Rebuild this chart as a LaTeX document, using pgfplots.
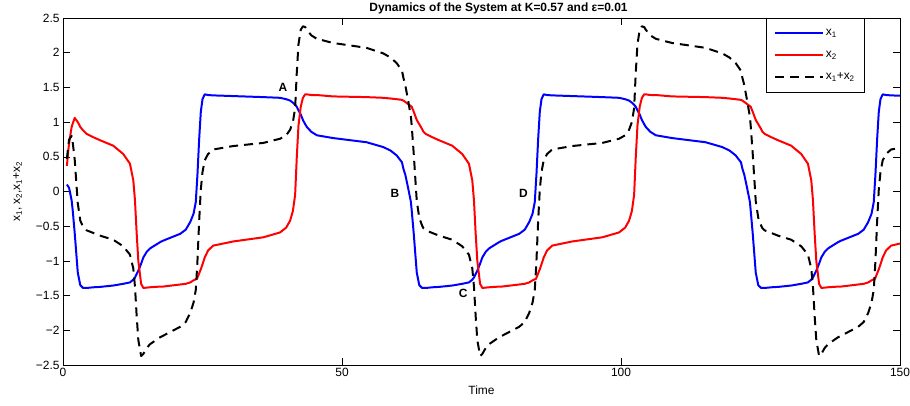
\documentclass[border=0pt]{standalone}
\usepackage{fontspec}
\setmainfont{Liberation Sans}
\usepackage{pgfplots}
\usepackage{pgfplotstable}
\pgfplotsset{compat=1.18}

\pgfplotstableread{
t x1 x2 s
0.7 0.10 0.37 0.47
0.95 0.07 0.59 0.66
1.1 0.05 0.70 0.75
1.55 -0.13 0.93 0.80
1.75 -0.28 0.98 0.70
2.1 -0.60 1.06 0.46
2.65 -1.17 1.00 -0.17
3.1 -1.35 0.93 -0.42
3.6 -1.39 0.88 -0.51
3.85 -1.39 0.86 -0.53
4.25 -1.39 0.83 -0.56
5.5 -1.38 0.78 -0.60
6.6 -1.375 0.74 -0.635
9.0 -1.355 0.66 -0.695
10.8 -1.33 0.54 -0.79
12.0 -1.31 0.40 -0.91
12.6 -1.27 0.16 -1.11
12.9 -1.24 -0.13 -1.37
13.2 -1.19 -0.60 -1.79
13.5 -1.14 -1.00 -2.14
14.0 -1.04 -1.33 -2.37
14.4 -0.95 -1.39 -2.34
15.0 -0.87 -1.385 -2.255
15.6 -0.82 -1.38 -2.20
17.4 -0.73 -1.37 -2.10
17.9 -0.71 -1.37 -2.08
21.0 -0.61 -1.34 -1.95
22.0 -0.55 -1.33 -1.88
22.8 -0.44 -1.31 -1.75
23.4 -0.32 -1.28 -1.60
23.8 -0.15 -1.265 -1.415
24.0 0.12 -1.26 -1.14
24.1 0.25 -1.24 -0.99
24.4 0.75 -1.18 -0.43
24.6 1.02 -1.14 -0.12
24.7 1.15 -1.12 0.03
25.0 1.33 -1.05 0.28
25.4 1.40 -0.95 0.45
26.0 1.39 -0.85 0.54
26.9 1.385 -0.78 0.605
30.5 1.375 -0.72 0.655
35.9 1.36 -0.66 0.70
38.9 1.35 -0.59 0.76
40.0 1.33 -0.52 0.81
40.7 1.31 -0.42 0.89
41.2 1.28 -0.28 1.00
41.6 1.25 -0.05 1.20
41.9 1.22 0.50 1.72
42.2 1.17 0.95 2.12
42.6 1.11 1.22 2.33
43.0 1.03 1.35 2.38
43.4 0.97 1.40 2.37
43.7 0.93 1.40 2.33
44.5 0.86 1.39 2.25
45.5 0.81 1.39 2.20
48.4 0.77 1.37 2.14
54.4 0.71 1.36 2.07
57.4 0.64 1.35 1.99
58.7 0.59 1.34 1.93
59.8 0.52 1.33 1.85
60.75 0.42 1.32 1.74
61.0 0.33 1.31 1.64
61.35 0.24 1.29 1.53
61.85 0.05 1.26 1.31
62.35 -0.15 1.23 1.08
62.5 -0.28 1.22 0.94
62.85 -0.60 1.15 0.55
63.4 -1.17 1.03 -0.14
63.85 -1.35 0.97 -0.38
64.35 -1.39 0.90 -0.49
64.6 -1.39 0.86 -0.53
65.0 -1.39 0.83 -0.56
66.25 -1.38 0.78 -0.60
67.35 -1.375 0.74 -0.635
69.75 -1.355 0.66 -0.695
71.55 -1.33 0.54 -0.79
72.75 -1.31 0.40 -0.91
73.35 -1.27 0.16 -1.11
73.65 -1.24 -0.13 -1.37
73.95 -1.19 -0.60 -1.79
74.25 -1.14 -1.00 -2.14
74.75 -1.04 -1.33 -2.37
75.15 -0.95 -1.39 -2.34
75.75 -0.87 -1.385 -2.255
76.35 -0.82 -1.38 -2.20
78.15 -0.73 -1.37 -2.10
78.65 -0.71 -1.37 -2.08
81.75 -0.61 -1.34 -1.95
82.75 -0.55 -1.33 -1.88
83.55 -0.44 -1.31 -1.75
84.15 -0.32 -1.28 -1.60
84.55 -0.15 -1.265 -1.415
84.75 0.12 -1.26 -1.14
84.85 0.25 -1.24 -0.99
85.15 0.75 -1.18 -0.43
85.35 1.02 -1.14 -0.12
85.45 1.15 -1.12 0.03
85.75 1.33 -1.05 0.28
86.15 1.40 -0.95 0.45
86.75 1.39 -0.85 0.54
87.65 1.385 -0.78 0.605
91.25 1.375 -0.72 0.655
96.65 1.36 -0.66 0.70
99.65 1.35 -0.59 0.76
100.75 1.33 -0.52 0.81
101.45 1.31 -0.42 0.89
101.95 1.28 -0.28 1.00
102.35 1.25 -0.05 1.20
102.65 1.22 0.50 1.72
102.95 1.17 0.95 2.12
103.35 1.11 1.22 2.33
103.75 1.03 1.35 2.38
104.15 0.97 1.40 2.37
104.45 0.93 1.40 2.33
105.25 0.86 1.39 2.25
106.25 0.81 1.39 2.20
109.15 0.77 1.37 2.14
115.15 0.71 1.36 2.07
118.15 0.64 1.35 1.99
119.45 0.59 1.34 1.93
120.55 0.52 1.33 1.85
121.5 0.42 1.32 1.74
121.75 0.33 1.31 1.64
122.1 0.24 1.29 1.53
122.6 0.05 1.26 1.31
123.1 -0.15 1.23 1.08
123.25 -0.28 1.22 0.94
123.6 -0.60 1.15 0.55
124.15 -1.17 1.03 -0.14
124.6 -1.35 0.97 -0.38
125.1 -1.39 0.90 -0.49
125.35 -1.39 0.86 -0.53
125.75 -1.39 0.83 -0.56
127.0 -1.38 0.78 -0.60
128.1 -1.375 0.74 -0.635
130.5 -1.355 0.66 -0.695
132.3 -1.33 0.54 -0.79
133.5 -1.31 0.40 -0.91
134.1 -1.27 0.16 -1.11
134.4 -1.24 -0.13 -1.37
134.7 -1.19 -0.60 -1.79
135.0 -1.14 -1.00 -2.14
135.5 -1.04 -1.33 -2.37
135.9 -0.95 -1.39 -2.34
136.5 -0.87 -1.385 -2.255
137.1 -0.82 -1.38 -2.20
138.9 -0.73 -1.37 -2.10
139.4 -0.71 -1.37 -2.08
142.5 -0.61 -1.34 -1.95
143.5 -0.55 -1.33 -1.88
144.3 -0.44 -1.31 -1.75
144.9 -0.32 -1.28 -1.60
145.3 -0.15 -1.265 -1.415
145.5 0.12 -1.26 -1.14
145.6 0.25 -1.24 -0.99
145.9 0.75 -1.18 -0.43
146.1 1.02 -1.14 -0.12
146.2 1.15 -1.12 0.03
146.5 1.33 -1.05 0.28
146.9 1.40 -0.95 0.45
147.5 1.39 -0.85 0.54
148.4 1.385 -0.78 0.605
150.0 1.38 -0.75 0.63
}\dyn

\begin{document}
\begin{tikzpicture}
\begin{axis}[
  name=ax,
  scale only axis,
  width=837bp, height=347bp,
  xmin=0, xmax=150, ymin=-2.5, ymax=2.5,
  xtick={0,50,100,150},
  ytick={-2.5,-2,-1.5,-1,-0.5,0,0.5,1,1.5,2,2.5},
  yticklabels={−2.5,−2,−1.5,−1,−0.5,0,0.5,1,1.5,2,2.5},
  xticklabels={0,50,100,150},
  tick pos=both,
  tick align=inside,
  major tick length=7bp,
  axis line style={line width=0.7pt},
  tick style={line width=0.6pt, black},
  ticklabel style={font=\fontsize{12}{14}\selectfont},
  xlabel={Time},
  xlabel style={at={([yshift=-21bp]axis description cs:0.5,0)}, anchor=north, inner sep=0pt, yshift=0pt, font=\fontsize{12}{14}\selectfont},
  ylabel={x\textsubscript{1}, x\textsubscript{2},x\textsubscript{1}+x\textsubscript{2}},
  ylabel style={at={([xshift=-41bp]axis description cs:0,0.5)}, anchor=south, inner sep=0pt, font=\fontsize{12}{14}\selectfont},
  legend style={at={([xshift=-35bp]rel axis cs:1,1)}, anchor=north east, draw=black, line width=0.7pt, fill=white,
    font=\fontsize{12}{14}\selectfont, inner xsep=8bp, inner ysep=9bp, row sep=10bp, cells={anchor=west}},
  legend image code/.code={\draw[#1] (0bp,0bp) -- (48bp,0bp);},
  clip=true,
]
\addplot[color={rgb,255:red,0;green,0;blue,255}, line width=2pt, line join=round] table[x=t, y=x1] {\dyn};
\addlegendentry{x\textsubscript{1}}
\addplot[color={rgb,255:red,255;green,0;blue,0}, line width=2pt, line join=round] table[x=t, y=x2] {\dyn};
\addlegendentry{x\textsubscript{2}}
\addplot[black, line width=2pt, dash pattern=on 9bp off 6bp, line join=round] table[x=t, y=s] {\dyn};
\addlegendentry{x\textsubscript{1}+x\textsubscript{2}}
\node[font=\bfseries\fontsize{12}{14}\selectfont] at (axis cs:39.4,1.50) {A};
\node[font=\bfseries\fontsize{12}{14}\selectfont] at (axis cs:59.5,-0.02) {B};
\node[font=\bfseries\fontsize{12}{14}\selectfont] at (axis cs:71.7,-1.47) {C};
\node[font=\bfseries\fontsize{12}{14}\selectfont] at (axis cs:82.5,-0.02) {D};
\end{axis}
\node[anchor=base, inner sep=0pt, font=\bfseries\fontsize{12}{14}\selectfont] at ([xshift=17bp,yshift=6.5bp]ax.north) {Dynamics of the System at K=0.57 and ε=0.01};
\pgfresetboundingbox
\path ([shift={(-63bp,-41bp)}]ax.south west) rectangle ([shift={(10bp,18bp)}]ax.north east);
\end{tikzpicture}
\end{document}
